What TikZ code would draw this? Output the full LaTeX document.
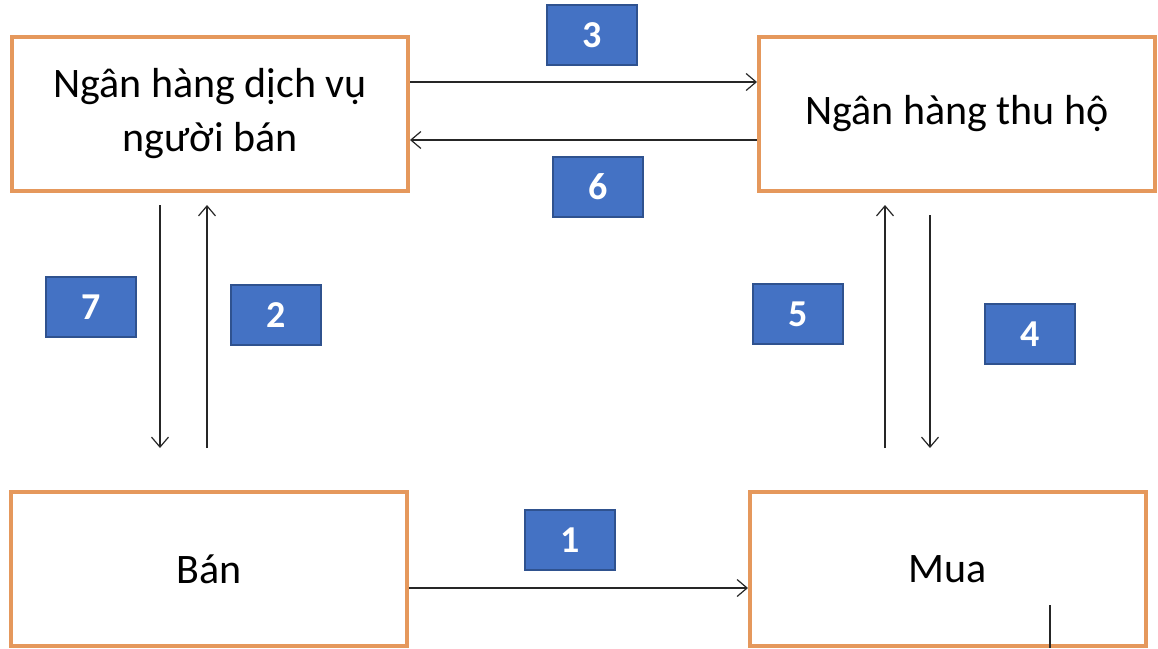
\documentclass[tikz,border=0pt]{standalone}
\usepackage{fontspec}
\setmainfont{Carlito}
\usetikzlibrary{arrows.meta,calc}
\definecolor{boxorange}{RGB}{229,152,92}
\definecolor{tagblue}{RGB}{68,114,196}
\definecolor{tagedge}{RGB}{47,82,143}
\tikzset{
  box/.style={draw=boxorange, line width=4pt, fill=white, align=center, font=\fontsize{42}{54}\selectfont, minimum width=396pt, minimum height=154pt, inner sep=0pt},
  tag/.style={draw=tagedge, line width=1.2pt, fill=tagblue, text=white, font=\fontsize{38}{40}\selectfont\bfseries, minimum width=90pt, minimum height=60pt, inner sep=0pt},
  arr/.style={-{Straight Barb[length=10pt, width=17pt, line width=1.2pt]}, line width=1.2pt, black!85}}

\begin{document}
\begin{tikzpicture}[x=1pt, y=-1pt]
  \useasboundingbox (0,0) rectangle (1158,648);
  % boxes
  \node[box] (nhdv) at (210,114) {Ngân hàng dịch vụ\\người bán};
  \node[box] (nhth) at (957,114) {Ngân hàng thu hộ};
  \node[box] (ban) at (209,569) {Bán};
  \node[box] (mua) at (948,569) {Mua};
  % number tags
  \node[tag] (t3) at (592,35) {3};
  \node[tag] (t6) at (598,187) {6};
  \node[tag] (t7) at (91,307) {7};
  \node[tag] (t2) at (276,315) {2};
  \node[tag] (t5) at (798,314) {5};
  \node[tag] (t4) at (1030,334) {4};
  \node[tag] (t1) at (570,540) {1};
  % connectors
  \draw[arr] (nhdv.east |- 0,82) -- (nhth.west |- 0,82);
  \draw[arr] (nhth.west |- 0,140) -- (nhdv.east |- 0,140);
  \draw[arr, shorten <=12pt, shorten >=42pt] (nhdv.south -| 160,0) -- (ban.north -| 160,0);
  \draw[arr, shorten <=42pt, shorten >=12pt] (ban.north -| 207,0) -- (nhdv.south -| 207,0);
  \draw[arr, shorten <=42pt, shorten >=12pt] (mua.north -| 885,0) -- (nhth.south -| 885,0);
  \draw[arr, shorten <=22pt, shorten >=42pt] (nhth.south -| 930,0) -- (mua.north -| 930,0);
  \draw[arr] (ban.east |- 0,588) -- (mua.west |- 0,588);
  \coordinate (mark) at (1050,605);
  \draw[line width=1.2pt, black!85] (mark) -- (mua.south -| mark);
\end{tikzpicture}
\end{document}
